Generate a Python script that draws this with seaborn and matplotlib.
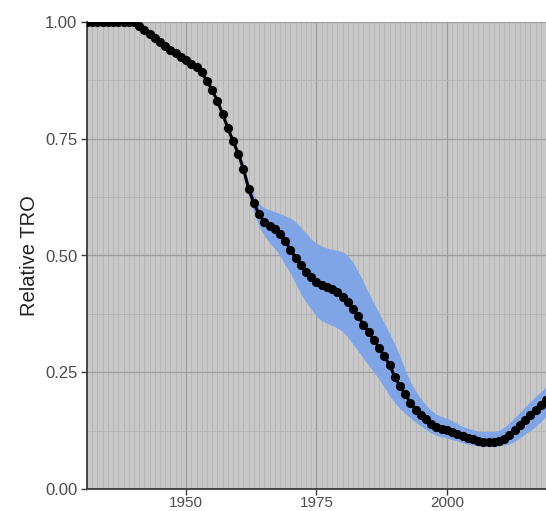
import numpy as np
import pandas as pd
import matplotlib
matplotlib.use("Agg")
import matplotlib.pyplot as plt
from matplotlib.ticker import MultipleLocator
import seaborn as sns

# Annual relative TRO, 1931-2019
years = list(range(1931, 2020))

tro = [
    1.000, 1.000, 1.000, 1.000, 1.000, 1.000, 1.000, 1.000, 1.000, 1.000,   # 1931-1940
    0.992, 0.983, 0.974, 0.965, 0.957, 0.949, 0.941, 0.933, 0.925, 0.918,   # 1941-1950
    0.911, 0.903, 0.892, 0.874, 0.854, 0.831, 0.803, 0.773, 0.745, 0.718,   # 1951-1960
    0.685, 0.642, 0.612, 0.588, 0.572, 0.563, 0.556, 0.546, 0.532, 0.512,   # 1961-1970
    0.495, 0.480, 0.465, 0.453, 0.444, 0.437, 0.433, 0.428, 0.421, 0.412,   # 1971-1980
    0.400, 0.386, 0.370, 0.352, 0.336, 0.319, 0.302, 0.285, 0.266, 0.240,   # 1981-1990
    0.220, 0.203, 0.185, 0.170, 0.159, 0.149, 0.140, 0.133, 0.128, 0.126,   # 1991-2000
    0.122, 0.118, 0.114, 0.109, 0.106, 0.103, 0.101, 0.100, 0.100, 0.102,   # 2001-2010
    0.108, 0.116, 0.127, 0.137, 0.147, 0.158, 0.169, 0.180, 0.191,          # 2011-2019
]

tro_lower = [
    1.000, 1.000, 1.000, 1.000, 1.000, 1.000, 1.000, 1.000, 1.000, 1.000,
    0.992, 0.983, 0.974, 0.965, 0.957, 0.949, 0.941, 0.933, 0.925, 0.918,
    0.911, 0.903, 0.891, 0.873, 0.852, 0.829, 0.800, 0.770, 0.741, 0.712,
    0.675, 0.627, 0.592, 0.563, 0.542, 0.527, 0.515, 0.500, 0.480, 0.462,
    0.440, 0.418, 0.400, 0.385, 0.370, 0.360, 0.355, 0.350, 0.345, 0.337,
    0.325, 0.310, 0.295, 0.280, 0.265, 0.250, 0.235, 0.218, 0.200, 0.185,
    0.172, 0.162, 0.152, 0.143, 0.135, 0.127, 0.120, 0.115, 0.111, 0.109,
    0.106, 0.103, 0.099, 0.096, 0.094, 0.092, 0.091, 0.091, 0.091, 0.092,
    0.094, 0.097, 0.102, 0.110, 0.118, 0.125, 0.134, 0.144, 0.155,
]

tro_upper = [
    1.000, 1.000, 1.000, 1.000, 1.000, 1.000, 1.000, 1.000, 1.000, 1.000,
    0.992, 0.983, 0.974, 0.965, 0.957, 0.949, 0.941, 0.933, 0.925, 0.918,
    0.911, 0.903, 0.893, 0.875, 0.856, 0.833, 0.806, 0.776, 0.749, 0.724,
    0.695, 0.657, 0.630, 0.610, 0.602, 0.598, 0.594, 0.590, 0.585, 0.580,
    0.572, 0.560, 0.548, 0.535, 0.526, 0.520, 0.516, 0.513, 0.511, 0.508,
    0.500, 0.485, 0.465, 0.443, 0.420, 0.398, 0.376, 0.355, 0.333, 0.310,
    0.285, 0.255, 0.230, 0.210, 0.193, 0.180, 0.168, 0.160, 0.155, 0.151,
    0.146, 0.140, 0.134, 0.130, 0.127, 0.124, 0.123, 0.123, 0.123, 0.126,
    0.132, 0.142, 0.153, 0.164, 0.176, 0.187, 0.198, 0.208, 0.219,
]

y_ticks = [0.00, 0.25, 0.50, 0.75, 1.00]
x_ticks = [1950, 1975, 2000]

df = pd.DataFrame({"year": years, "tro": tro, "lower": tro_lower, "upper": tro_upper})

sns.set_theme(style="ticks", rc={
    "axes.facecolor": "#c8c8c8",
    "axes.edgecolor": "#3a3a3a",
    "axes.linewidth": 1.3,
    "xtick.color": "#3a3a3a",
    "ytick.color": "#3a3a3a",
    "xtick.labelcolor": "#4d4d4d",
    "ytick.labelcolor": "#4d4d4d",
})
plt.rcParams["font.family"] = ["Liberation Sans", "DejaVu Sans"]

fig = plt.figure(figsize=(5.46, 5.11), dpi=100)
ax = fig.add_axes([87 / 546, 22 / 511, 1 - 87 / 546, (489 - 22) / 511])

ax.fill_between(df["year"], df["lower"], df["upper"], color="#7fa5e6", lw=0, zorder=2)
sns.lineplot(data=df, x="year", y="tro", ax=ax, color="black", linewidth=2.2,
             marker="o", markersize=6.6, markeredgewidth=0, zorder=3)

ax.set_xlim(1931, 2019)
ax.set_ylim(0, 1)
ax.set_xticks(x_ticks)
ax.set_yticks(y_ticks)
ax.set_yticklabels([f"{v:.2f}" for v in y_ticks])
ax.xaxis.set_minor_locator(MultipleLocator(1))
ax.yaxis.set_minor_locator(MultipleLocator(0.125))

ax.grid(which="major", color="#9c9c9c", linewidth=0.9, zorder=1)
ax.grid(which="minor", color="#b4b4b4", linewidth=0.6, zorder=1)
ax.set_axisbelow(True)

ax.tick_params(which="major", length=4, width=1.0, labelsize=12, pad=3)
ax.tick_params(axis="x", which="major", labelsize=11, pad=1)
ax.tick_params(which="minor", length=0)
for side in ("top", "right"):
    ax.spines[side].set_visible(False)

ax.set_xlabel("")
ax.set_ylabel("Relative TRO", fontsize=14.5, color="#222222")
ax.yaxis.set_label_coords(-0.105, 0.5)

fig.savefig("out.png", dpi=100)
